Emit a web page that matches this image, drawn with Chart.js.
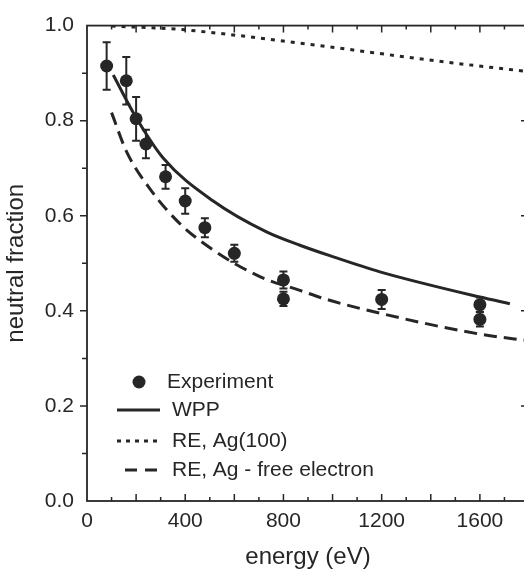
<!DOCTYPE html>
<html>
<head>
<meta charset="utf-8">
<script src="https://cdn.jsdelivr.net/npm/chart.js@4.4.0/dist/chart.umd.min.js"></script>
<style>
    html, body { margin: 0; padding: 0; background: #fff; overflow: hidden; }
    #wrap { width: 540px; height: 576px; }
</style>
</head>
<body>
<div id="wrap"><canvas id="neutralChart"></canvas></div>
<script>
// experiment, with error bars
const expEnergy = [80, 160, 200, 240, 320, 400, 480, 600, 800, 800, 1200, 1600, 1600];
const expFraction = [0.915, 0.884, 0.804, 0.751, 0.682, 0.631, 0.575, 0.521, 0.465, 0.425, 0.424, 0.413, 0.382];
const expError = [0.05, 0.05, 0.046, 0.03, 0.025, 0.027, 0.02, 0.018, 0.018, 0.015, 0.02, 0.015, 0.015];

// model curves
const wppEnergy = [107, 195, 311, 514, 731, 867, 989, 1193, 1600, 1722];
const wppFraction = [0.896, 0.811, 0.721, 0.631, 0.566, 0.538, 0.516, 0.482, 0.429, 0.415];
const reAgEnergy = [100, 379, 514, 651, 867, 977, 1166, 1466, 1800];
const reAgFraction = [0.999, 0.992, 0.985, 0.977, 0.963, 0.956, 0.943, 0.923, 0.903];
const reFreeEnergy = [100, 161, 263, 379, 514, 704, 867, 976, 1193, 1600, 1800];
const reFreeFraction = [0.817, 0.735, 0.652, 0.583, 0.528, 0.472, 0.443, 0.424, 0.395, 0.351, 0.337];

const xTicks = [0, 400, 800, 1200, 1600];
const yTicks = [0.0, 0.2, 0.4, 0.6, 0.8, 1.0];
const legendLabels = ['Experiment', 'WPP', 'RE, Ag(100)', 'RE, Ag - free electron'];

const ink = '#262626';
const fontFamily = "'Liberation Sans', Arial, sans-serif";

const toPoints = (xs, ys) => xs.map((x, i) => ({ x: x, y: ys[i] }));

const inkPlugin = {
    id: 'inkPlugin',
    afterDraw(chart) {
        const ctx = chart.ctx;
        const { left, right, top, bottom } = chart.chartArea;
        const xs = chart.scales.x;
        const ys = chart.scales.y;

        ctx.save();
        ctx.strokeStyle = ink;

        // error bars
        ctx.lineWidth = 2;
        expEnergy.forEach((e, i) => {
            const px = xs.getPixelForValue(e);
            const yTop = ys.getPixelForValue(expFraction[i] + expError[i]);
            const yBot = ys.getPixelForValue(expFraction[i] - expError[i]);
            ctx.beginPath();
            ctx.moveTo(px, yTop); ctx.lineTo(px, yBot);
            ctx.moveTo(px - 4, yTop); ctx.lineTo(px + 4, yTop);
            ctx.moveTo(px - 4, yBot); ctx.lineTo(px + 4, yBot);
            ctx.stroke();
        });

        // frame
        ctx.lineWidth = 1.8;
        ctx.strokeRect(left, top, right - left, bottom - top);

        // x ticks, inward on top and bottom
        ctx.lineWidth = 1.5;
        ctx.beginPath();
        for (let v = 100; v < 1800; v += 100) {
            const px = xs.getPixelForValue(v);
            const len = v % 200 === 0 ? 7 : 4;
            ctx.moveTo(px, bottom); ctx.lineTo(px, bottom - len);
            ctx.moveTo(px, top); ctx.lineTo(px, top + len);
        }
        // y ticks, outward on left, inward on right
        for (let k = 1; k < 10; k++) {
            const py = ys.getPixelForValue(k / 10);
            const len = k % 2 === 0 ? 7 : 5;
            ctx.moveTo(left, py); ctx.lineTo(left - len, py);
            ctx.moveTo(right, py); ctx.lineTo(right - (k % 2 === 0 ? 8 : 4), py);
        }
        ctx.stroke();

        // legend
        const rows = [382, 410, 441, 470];
        ctx.fillStyle = ink;
        ctx.beginPath();
        ctx.arc(139, rows[0], 6.5, 0, Math.PI * 2);
        ctx.fill();
        ctx.lineWidth = 3;
        ctx.setLineDash([]);
        ctx.beginPath(); ctx.moveTo(117, rows[1]); ctx.lineTo(160, rows[1]); ctx.stroke();
        ctx.setLineDash([4, 5]);
        ctx.beginPath(); ctx.moveTo(117, rows[2]); ctx.lineTo(159, rows[2]); ctx.stroke();
        ctx.setLineDash([12, 8]);
        ctx.beginPath(); ctx.moveTo(125, rows[3]); ctx.lineTo(158, rows[3]); ctx.stroke();
        ctx.setLineDash([]);

        ctx.font = '21px ' + fontFamily;
        ctx.textBaseline = 'middle';
        ctx.textAlign = 'left';
        ctx.fillText(legendLabels[0], 167, rows[0]);
        ctx.fillText(legendLabels[1], 172, rows[1]);
        ctx.fillText(legendLabels[2], 172, rows[2]);
        ctx.fillText(legendLabels[3], 172, rows[3]);
        ctx.restore();
    }
};

const lineStyle = {
    type: 'line',
    showLine: true,
    pointRadius: 0,
    borderColor: ink,
    borderWidth: 3,
    fill: false,
    cubicInterpolationMode: 'monotone'
};

const ctx = document.getElementById('neutralChart').getContext('2d');
new Chart(ctx, {
    type: 'scatter',
    data: {
        datasets: [
            {
                label: legendLabels[0],
                data: toPoints(expEnergy, expFraction),
                pointRadius: 6.5,
                pointBackgroundColor: ink,
                pointBorderWidth: 0,
                showLine: false
            },
            Object.assign({ label: legendLabels[1], data: toPoints(wppEnergy, wppFraction) }, lineStyle),
            Object.assign({ label: legendLabels[2], data: toPoints(reAgEnergy, reAgFraction), borderDash: [4, 6] }, lineStyle),
            Object.assign({ label: legendLabels[3], data: toPoints(reFreeEnergy, reFreeFraction), borderDash: [13, 7] }, lineStyle)
        ]
    },
    options: {
        responsive: true,
        maintainAspectRatio: false,
        animation: false,
        layout: { padding: { top: 19, right: 11, left: 0, bottom: 0 } },
        plugins: {
            legend: { display: false },
            tooltip: { enabled: false }
        },
        scales: {
            x: {
                type: 'linear',
                min: 0,
                max: 1800,
                afterBuildTicks: scale => { scale.ticks = xTicks.map(v => ({ value: v })); },
                afterFit: scale => { scale.height = 75; },
                grid: { display: false, drawTicks: false },
                border: { display: false },
                ticks: {
                    color: ink,
                    padding: 8,
                    maxRotation: 0,
                    font: { family: fontFamily, size: 21 },
                    callback: v => String(v)
                },
                title: {
                    display: true,
                    text: 'energy (eV)',
                    color: ink,
                    padding: { top: 0, bottom: 4 },
                    font: { family: fontFamily, size: 24 }
                }
            },
            y: {
                type: 'linear',
                min: 0,
                max: 1,
                afterBuildTicks: scale => { scale.ticks = yTicks.map(v => ({ value: v })); },
                afterFit: scale => { scale.width = 87; },
                grid: { display: false, drawTicks: false },
                border: { display: false },
                ticks: {
                    color: ink,
                    padding: 13,
                    font: { family: fontFamily, size: 21 },
                    callback: v => v.toFixed(1)
                },
                title: {
                    display: true,
                    text: 'neutral fraction',
                    color: ink,
                    padding: { top: 2, bottom: 0 },
                    font: { family: fontFamily, size: 24 }
                }
            }
        }
    },
    plugins: [inkPlugin]
});
</script>
</body>
</html>
